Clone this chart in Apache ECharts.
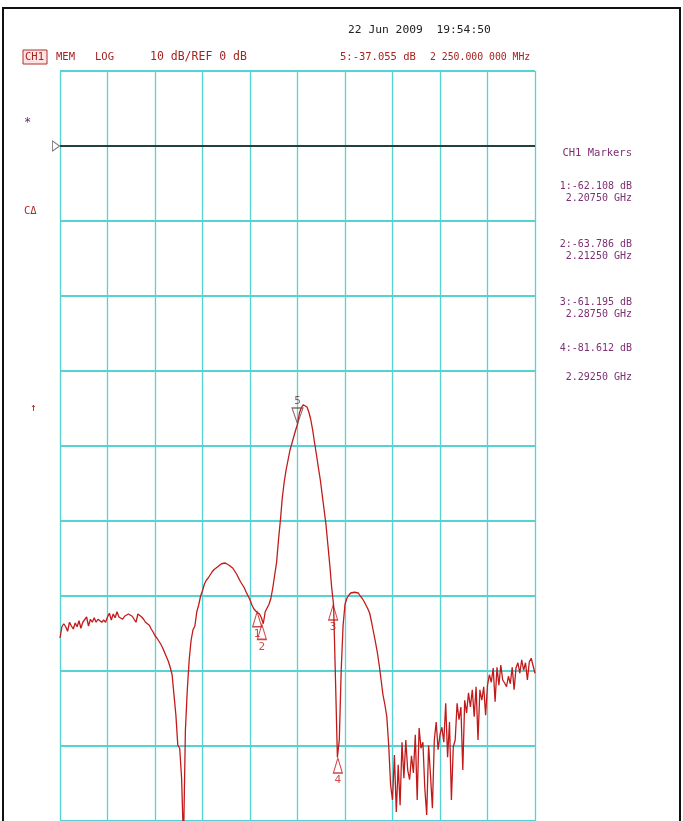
<!DOCTYPE html>
<html>
<head>
<meta charset="utf-8">
<script src="https://cdn.jsdelivr.net/npm/echarts@6/dist/echarts.min.js"></script>
<style>
html,body{margin:0;padding:0;background:#fff;}
#chart{width:683px;height:821px;}
</style>
</head>
<body>
<div id="chart"></div>
<script>
// ---- data ----
const sweepStartMHz = 2000;
const sweepStopMHz = 2500;
const sweepStepMHz = 2;
const traceDb = [
-65.6,-64.1,-63.7,-64.1,-64.7,-63.5,-64.0,-64.4,-63.6,-64.1,
-63.3,-64.3,-63.5,-63.7,-62.8,-64.0,-63.1,-63.5,-62.9,-63.5,
-63.1,-63.3,-63.5,-63.2,-63.5,-62.8,-62.3,-63.2,-62.4,-62.9,
-62.1,-62.8,-62.7,-63.1,-62.7,-62.8,-62.4,-62.3,-62.7,-63.1,
-63.5,-62.4,-62.3,-62.8,-63.1,-63.5,-63.7,-63.9,-64.4,-64.8,
-65.3,-65.6,-66.0,-66.4,-66.9,-67.5,-68.1,-68.7,-69.5,-70.5,
-73.2,-75.9,-79.9,-80.3,-84.3,-93.0,-77.9,-72.5,-68.5,-65.9,
-64.5,-64.0,-62.1,-61.2,-60.0,-59.3,-58.4,-57.9,-57.6,-57.2,
-56.8,-56.5,-56.3,-56.1,-56.0,-55.7,-55.6,-55.6,-55.7,-55.9,
-56.0,-56.3,-56.5,-57.1,-57.6,-58.1,-58.5,-58.9,-59.5,-60.0,
-60.5,-61.2,-61.7,-62.0,-62.1,-62.4,-62.9,-63.7,-62.1,-61.6,
-61.1,-60.3,-58.9,-57.2,-55.5,-52.5,-49.9,-46.9,-44.8,-43.2,
-41.9,-40.6,-39.7,-38.8,-37.9,-37.1,-35.6,-34.9,-34.5,-34.5,
-34.8,-35.5,-36.5,-37.9,-39.6,-41.2,-42.9,-44.5,-46.5,-48.5,
-50.5,-53.2,-55.9,-58.9,-61.2,-71.2,-81.5,-79.2,-69.9,-63.9,
-61.1,-60.3,-59.9,-59.6,-59.6,-59.5,-59.5,-59.6,-60.0,-60.3,
-60.7,-61.2,-61.7,-62.3,-63.5,-64.8,-66.1,-67.5,-69.2,-71.2,
-73.2,-74.5,-76.1,-79.9,-85.2,-87.2,-81.2,-88.8,-82.5,-87.9,
-79.5,-84.3,-79.2,-83.2,-84.5,-81.3,-83.6,-78.5,-87.2,-77.6,
-80.3,-79.5,-85.6,-89.2,-79.9,-83.9,-88.3,-79.2,-76.8,-80.5,
-78.5,-77.5,-79.5,-74.3,-81.5,-76.8,-87.2,-80.1,-79.2,-74.3,
-76.5,-74.8,-83.2,-73.9,-75.6,-72.9,-74.8,-72.5,-76.1,-72.1,
-79.2,-72.5,-73.9,-72.1,-75.9,-71.9,-70.5,-71.5,-69.6,-74.1,
-69.5,-71.9,-69.2,-71.2,-71.6,-72.1,-70.7,-71.7,-69.5,-72.5,
-69.6,-68.9,-70.3,-68.5,-69.9,-68.9,-71.2,-68.8,-68.3,-69.3,
-70.3
];
const markerIds   = ['1','2','3','4'];
const markerMHz   = [2207.5, 2212.5, 2287.5, 2292.5];
const markerDb    = [-62.108, -63.786, -61.195, -81.612];
const activeMarkerId  = '5';
const activeMarkerMHz = 2250;
const activeMarkerDb  = -37.055;
const refLevelDb = 0;
const scaleDbPerDiv = 10;
const yMinDb = -90, yMaxDb = 10;
const freqDivMHz = 50;

// ---- build ----
const traceData = traceDb.map((v, i) => [sweepStartMHz + i * sweepStepMHz, v]);
const markerData = markerIds.map((id, i) => ({ name: id, value: [markerMHz[i], markerDb[i]] }));

const red = '#c21a1a';
const hdr = '#a52420';
const purple = '#7d2f72';
const cyan = '#55d3d3';
const mono = 'DejaVu Sans Mono';

function txt(x, y, text, size, fill, align) {
  return { type: 'text', x: x, y: y, silent: true,
    style: { text: text, fill: fill, font: size + 'px "' + mono + '"', textAlign: align || 'left', textVerticalAlign: 'middle' } };
}

const panel = [txt(632, 153, 'CH1 Markers', 10.5, purple, 'right')];
const panelY = [[186, 198], [244, 256], [302, 314], [348, 377]];
markerIds.forEach((id, i) => {
  panel.push(txt(632, panelY[i][0], id + ':' + markerDb[i].toFixed(3) + ' dB', 10, purple, 'right'));
  panel.push(txt(632, panelY[i][1], (markerMHz[i] / 1000).toFixed(5) + ' GHz', 10, purple, 'right'));
});

const chart = echarts.init(document.getElementById('chart'), null, { renderer: 'canvas' });
chart.setOption({
  animation: false,
  backgroundColor: '#fff',
  grid: { left: 60, right: 148, top: 71, bottom: 0, containLabel: false },
  xAxis: {
    type: 'value', min: sweepStartMHz, max: sweepStopMHz, interval: freqDivMHz,
    axisLine: { show: false }, axisTick: { show: false }, axisLabel: { show: false },
    splitLine: { show: true, lineStyle: { color: cyan, width: 1.3 } }
  },
  yAxis: {
    type: 'value', min: yMinDb, max: yMaxDb, interval: scaleDbPerDiv,
    axisLine: { show: false }, axisTick: { show: false }, axisLabel: { show: false },
    splitLine: { show: true, lineStyle: { color: cyan, width: 2 } }
  },
  series: [
    {
      type: 'line', data: traceData, showSymbol: false, symbol: 'none', clip: true,
      lineStyle: { color: red, width: 1.3 }, z: 3,
      markLine: {
        silent: true, symbol: ['none', 'none'], label: { show: false },
        lineStyle: { color: '#111', width: 1.6, type: 'solid' },
        data: [{ yAxis: refLevelDb }]
      }
    },
    {
      type: 'scatter', data: markerData, z: 5,
      symbol: 'path://M5,0L10,16L0,16Z', symbolSize: [9, 15], symbolOffset: [0, '50%'],
      itemStyle: { color: 'rgba(255,255,255,0)', borderColor: red, borderWidth: 1.2 },
      label: { show: true, formatter: '{b}', position: 'bottom', distance: 1, color: red, fontSize: 11, fontFamily: mono }
    },
    {
      type: 'scatter', data: [{ name: activeMarkerId, value: [activeMarkerMHz, activeMarkerDb] }], z: 5,
      symbol: 'path://M0,0L10,0L5,16Z', symbolSize: [11, 16], symbolOffset: [0, '-50%'],
      itemStyle: { color: 'rgba(255,255,255,0)', borderColor: '#6a4a4a', borderWidth: 1.2 },
      label: { show: true, formatter: '{b}', position: 'top', distance: 1, color: '#6a3a3a', fontSize: 11, fontFamily: mono }
    },
    {
      type: 'scatter', data: [[sweepStartMHz, refLevelDb]], z: 6, clip: false,
      symbol: 'path://M0,0L10,6L0,12Z', symbolSize: [7, 10], symbolOffset: [-4, 0],
      itemStyle: { color: '#fff', borderColor: '#555', borderWidth: 1 }
    }
  ],
  graphic: [
    { type: 'rect', silent: true, shape: { x: 3, y: 8, width: 677, height: 840 },
      style: { fill: 'none', stroke: '#111', lineWidth: 2 } },
    txt(348, 30, '22 Jun 2009  19:54:50', 11.3, '#222'),
    { type: 'rect', silent: true, shape: { x: 23, y: 50, width: 24, height: 14 },
      style: { fill: '#fbe3e3', stroke: '#b0302a', lineWidth: 1 } },
    txt(25, 57, 'CH1', 10.5, hdr),
    txt(56, 57, 'MEM', 10.5, hdr),
    txt(95, 57, 'LOG', 10.5, hdr),
    txt(150, 57, '10 dB/REF 0 dB', 11.5, hdr),
    txt(340, 57, activeMarkerId + ':' + activeMarkerDb.toFixed(3) + ' dB', 10.5, hdr),
    txt(430, 57, '2 250.000 000 MHz', 9.8, hdr),
    txt(24, 123, '*', 12, '#7a1a8a'),
    txt(24, 211, 'C\u0394', 10.5, '#b02828'),
    txt(30, 408, '\u2191', 11, '#b02828')
  ].concat(panel)
});
</script>
</body>
</html>
